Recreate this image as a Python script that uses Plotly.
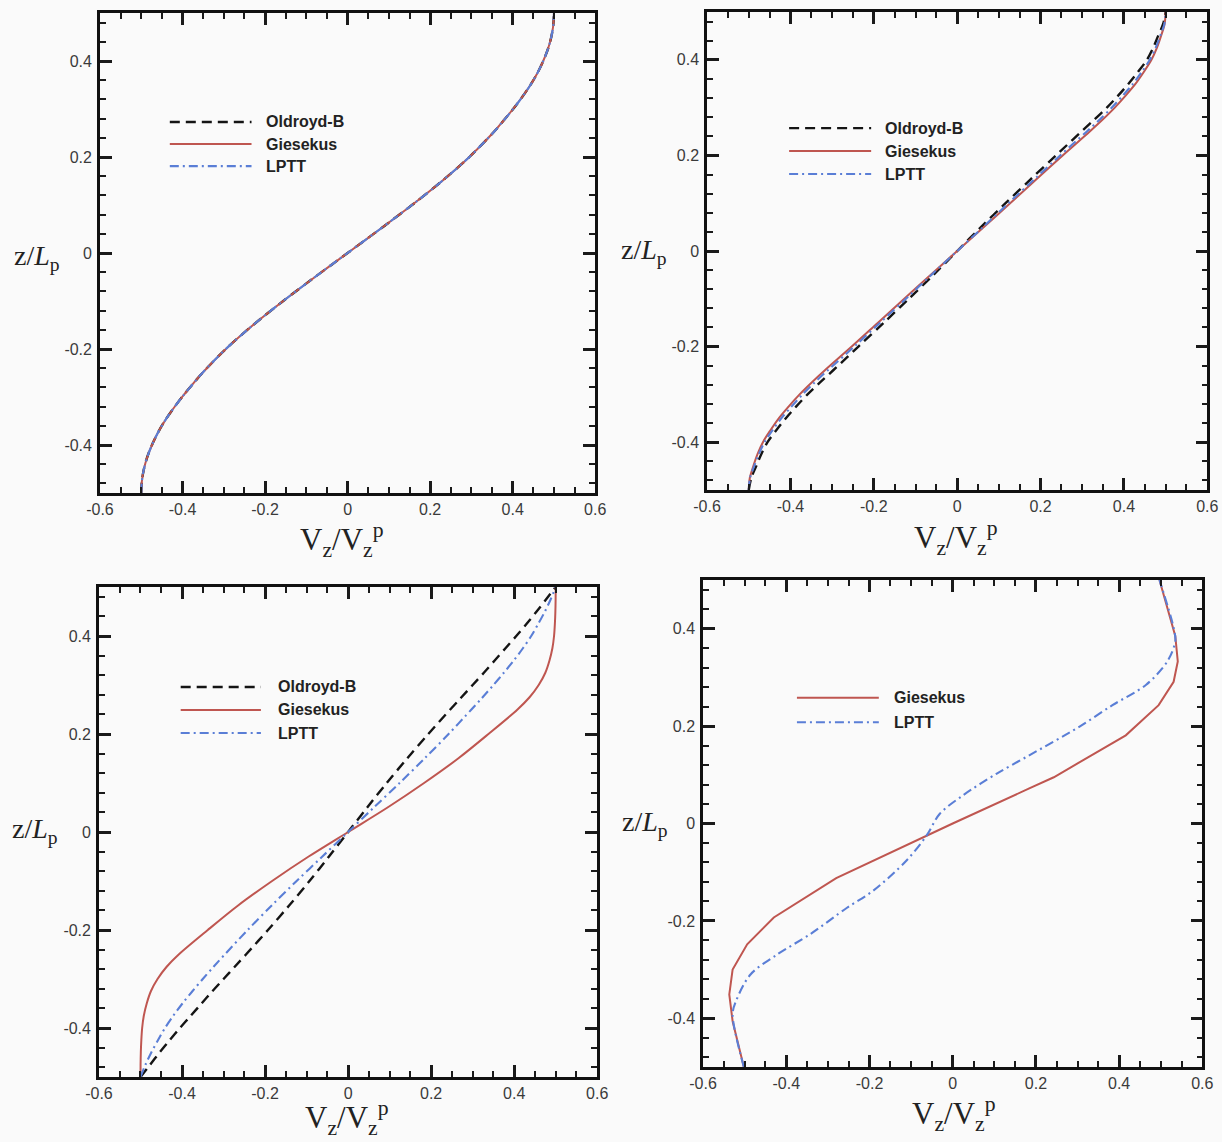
import plotly.graph_objects as go

# ---------------- data ----------------
x_tick_vals = [-0.6, -0.4, -0.2, 0, 0.2, 0.4, 0.6]
x_tick_text = ["-0.6", "-0.4", "-0.2", "0", "0.2", "0.4", "0.6"]
y_tick_vals = [-0.4, -0.2, 0, 0.2, 0.4]
y_tick_text = ["-0.4", "-0.2", "0", "0.2", "0.4"]

x_title = "V<sub>z</sub>/V<sub>z</sub><sup>p</sup>"
y_title = "z/<i>L</i><sub>p</sub>"

# common height grid used for panels (a)-(c)
z_grid = [-0.5, -0.475, -0.45, -0.425, -0.4, -0.375, -0.35, -0.325, -0.3, -0.275, -0.25,
          -0.2, -0.15, -0.1, -0.05, 0, 0.05, 0.1, 0.15, 0.2,
          0.25, 0.275, 0.3, 0.325, 0.35, 0.375, 0.4, 0.425, 0.45, 0.475, 0.5]

# Panel (a) top-left: all three models coincide
v_a_oldroyd = [-0.5, -0.4984, -0.4935, -0.4854, -0.474, -0.46, -0.443, -0.423, -0.401, -0.377, -0.352,
               -0.295, -0.229, -0.156, -0.079, 0, 0.079, 0.156, 0.229, 0.295,
               0.352, 0.377, 0.401, 0.423, 0.443, 0.46, 0.474, 0.4854, 0.4935, 0.4984, 0.5]
v_a_giesekus = [-0.5, -0.4984, -0.4935, -0.4854, -0.474, -0.46, -0.443, -0.423, -0.401, -0.377, -0.352,
                -0.295, -0.229, -0.156, -0.079, 0, 0.079, 0.156, 0.229, 0.295,
                0.352, 0.377, 0.401, 0.423, 0.443, 0.46, 0.474, 0.4854, 0.4935, 0.4984, 0.5]
v_a_lptt = [-0.5, -0.4984, -0.4935, -0.4854, -0.474, -0.46, -0.443, -0.423, -0.401, -0.377, -0.352,
            -0.295, -0.229, -0.156, -0.079, 0, 0.079, 0.156, 0.229, 0.295,
            0.352, 0.377, 0.401, 0.423, 0.443, 0.46, 0.474, 0.4854, 0.4935, 0.4984, 0.5]

# Panel (b) top-right
v_b_oldroyd = [-0.5, -0.494, -0.482, -0.47, -0.455, -0.434, -0.411, -0.386, -0.359, -0.329, -0.298,
               -0.237, -0.176, -0.116, -0.057, 0, 0.057, 0.116, 0.176, 0.237,
               0.298, 0.329, 0.359, 0.386, 0.411, 0.434, 0.455, 0.47, 0.482, 0.494, 0.5]
v_b_giesekus = [-0.5, -0.4975, -0.489, -0.479, -0.466, -0.448, -0.428, -0.404, -0.378, -0.349, -0.318,
                -0.253, -0.19, -0.127, -0.064, 0, 0.064, 0.127, 0.19, 0.253,
                0.318, 0.349, 0.378, 0.404, 0.428, 0.448, 0.466, 0.479, 0.489, 0.4975, 0.5]
v_b_lptt = [-0.5, -0.497, -0.487, -0.476, -0.462, -0.443, -0.422, -0.397, -0.371, -0.342, -0.311,
            -0.247, -0.185, -0.123, -0.062, 0, 0.062, 0.123, 0.185, 0.247,
            0.311, 0.342, 0.371, 0.397, 0.422, 0.443, 0.462, 0.476, 0.487, 0.497, 0.5]

# Panel (c) bottom-left
v_c_oldroyd = [-0.5, -0.477, -0.454, -0.43, -0.405, -0.379, -0.353, -0.327, -0.3, -0.273, -0.246,
               -0.193, -0.142, -0.093, -0.046, 0, 0.046, 0.093, 0.142, 0.193,
               0.246, 0.273, 0.3, 0.327, 0.353, 0.379, 0.405, 0.43, 0.454, 0.477, 0.5]
v_c_giesekus = [-0.5, -0.4998, -0.4992, -0.498, -0.496, -0.492, -0.485, -0.475, -0.459, -0.437, -0.408,
                -0.338, -0.265, -0.183, -0.095, 0, 0.095, 0.183, 0.265, 0.338,
                0.408, 0.437, 0.459, 0.475, 0.485, 0.492, 0.496, 0.498, 0.4992, 0.4998, 0.5]
v_c_lptt = [-0.5, -0.488, -0.474, -0.458, -0.441, -0.421, -0.399, -0.375, -0.35, -0.324, -0.297,
            -0.242, -0.184, -0.124, -0.062, 0, 0.062, 0.124, 0.184, 0.242,
            0.297, 0.324, 0.35, 0.375, 0.399, 0.421, 0.441, 0.458, 0.474, 0.488, 0.5]

# Panel (d) bottom-right: Giesekus and LPTT only
v_d_giesekus = [-0.502, -0.529, -0.537, -0.529, -0.494, -0.43, -0.28, -0.063, 0.0, 0.184, 0.243,
                0.416, 0.495, 0.531, 0.541, 0.535, 0.497]
z_d_giesekus = [-0.5, -0.406, -0.351, -0.3, -0.248, -0.193, -0.112, -0.025, 0.0, 0.072, 0.095,
                0.181, 0.243, 0.291, 0.333, 0.385, 0.5]
v_d_lptt = [-0.502, -0.529, -0.521, -0.486, -0.422, -0.342, -0.254, -0.191, -0.111, -0.063, -0.031,
            0.025, 0.105, 0.184, 0.305, 0.384, 0.465, 0.516, 0.535, 0.531, 0.497]
z_d_lptt = [-0.5, -0.392, -0.365, -0.31, -0.269, -0.227, -0.173, -0.138, -0.076, -0.025, 0.02,
            0.058, 0.102, 0.14, 0.199, 0.243, 0.285, 0.333, 0.374, 0.402, 0.5]

# ---------------- styles ----------------
BLACK = "#141414"
RED = "#bf5650"
BLUE = "#5a7ed6"
styles = {
    "Oldroyd-B": dict(color=BLACK, width=2.4, dash="10px,6px"),
    "Giesekus": dict(color=RED, width=2, dash="solid"),
    "LPTT": dict(color=BLUE, width=2.1, dash="9px,4px,2px,4px"),
}
tick_font = dict(family="Liberation Sans, Arial, sans-serif", size=16, color="#3a3a3a")
xtitle_font = dict(family="Liberation Serif, Times New Roman, serif", size=31, color="#222")
ytitle_font = dict(family="Liberation Serif, Times New Roman, serif", size=28, color="#222")
legend_font = dict(family="Liberation Sans, Arial, sans-serif", size=16, color="#222")

W, H = 1222, 1142
# horizontal compensation observed between layout pixels and the captured picture
SX, OX = 0.981, 11.9
# panel pixel boxes (as seen in the reference): left, right, top, bottom
boxes = [
    (98, 594, 13, 493),
    (706, 1207, 12, 490),
    (97, 596, 587, 1077),
    (702, 1202, 580, 1067),
]

def px_to_paper_x(px):
    return ((px - OX) / SX) / W

fig = go.Figure()

panel_series = [
    [("Oldroyd-B", v_a_oldroyd, z_grid), ("Giesekus", v_a_giesekus, z_grid), ("LPTT", v_a_lptt, z_grid)],
    [("Oldroyd-B", v_b_oldroyd, z_grid), ("Giesekus", v_b_giesekus, z_grid), ("LPTT", v_b_lptt, z_grid)],
    [("Oldroyd-B", v_c_oldroyd, z_grid), ("Giesekus", v_c_giesekus, z_grid), ("LPTT", v_c_lptt, z_grid)],
    [("Giesekus", v_d_giesekus, z_d_giesekus), ("LPTT", v_d_lptt, z_d_lptt)],
]
line_shapes = [["spline"] * 3, ["spline"] * 3, ["spline"] * 3, ["linear", "spline"]]

for i, series in enumerate(panel_series):
    sfx = "" if i == 0 else str(i + 1)
    for j, (name, v, z) in enumerate(series):
        st = styles[name]
        fig.add_trace(go.Scatter(
            x=v, y=z, mode="lines", name=name, showlegend=False,
            line=dict(color=st["color"], width=st["width"], dash=st["dash"],
                      shape=line_shapes[i][j], smoothing=0.9),
            xaxis="x" + sfx, yaxis="y" + sfx,
        ))

layout = dict(
    width=W, height=H, margin=dict(l=0, r=0, t=0, b=0),
    paper_bgcolor="#fafafa", plot_bgcolor="#fafafa",
    showlegend=False,
)

def xcfg(domain, anchor):
    return dict(domain=domain, anchor=anchor, range=[-0.6, 0.6],
                tickmode="array", tickvals=x_tick_vals, ticktext=x_tick_text,
                ticks="inside", ticklen=12, tickwidth=2.5, tickcolor="#1a1a1a",
                showline=True, linecolor="#111", linewidth=2.6, mirror="allticks",
                showgrid=False, zeroline=False, tickfont=tick_font, ticklabelstandoff=0,
                minor=dict(tickmode="linear", tick0=0, dtick=0.05, ticks="inside",
                           ticklen=6, tickwidth=1.5, tickcolor="#1a1a1a", showgrid=False))

def ycfg(domain, anchor):
    return dict(domain=domain, anchor=anchor, range=[-0.5, 0.5],
                tickmode="array", tickvals=y_tick_vals, ticktext=y_tick_text,
                ticks="inside", ticklen=12, tickwidth=2.5, tickcolor="#1a1a1a",
                showline=True, linecolor="#111", linewidth=2.6, mirror="allticks",
                showgrid=False, zeroline=False, tickfont=tick_font, ticklabelstandoff=2,
                minor=dict(tickmode="linear", tick0=0, dtick=0.04, ticks="inside",
                           ticklen=6, tickwidth=1.5, tickcolor="#1a1a1a", showgrid=False))

for i, (l, r, t, b) in enumerate(boxes):
    sfx = "" if i == 0 else str(i + 1)
    xd = [px_to_paper_x(l), px_to_paper_x(r)]
    yd = [1 - b / H, 1 - t / H]
    layout["xaxis" + sfx] = xcfg(xd, "y" + sfx)
    layout["yaxis" + sfx] = ycfg(yd, "x" + sfx)

fig.update_layout(**layout)

# axis titles (horizontal, as in the reference)
ytitle_pos = [(-0.127, 0.49), (-0.126, 0.498), (-0.128, 0.504), (-0.116, 0.501)]
xtitle_pos = [(0.488, -0.098), (0.498, -0.10), (0.497, -0.084), (0.502, -0.097)]
for i in range(4):
    sfx = "" if i == 0 else str(i + 1)
    fig.add_annotation(text=y_title, xref="x" + sfx + " domain", yref="y" + sfx + " domain",
                       x=ytitle_pos[i][0], y=ytitle_pos[i][1], showarrow=False,
                       xanchor="center", yanchor="middle", font=ytitle_font)
    fig.add_annotation(text=x_title, xref="x" + sfx + " domain", yref="y" + sfx + " domain",
                       x=xtitle_pos[i][0], y=xtitle_pos[i][1], showarrow=False,
                       xanchor="center", yanchor="middle", font=xtitle_font)

# in-plot legends (line sample + bold label)
legend_layout = [
    (0.141, 0.306, 0.331, [0.773, 0.727, 0.681], ["Oldroyd-B", "Giesekus", "LPTT"]),
    (0.164, 0.328, 0.352, [0.757, 0.709, 0.661], ["Oldroyd-B", "Giesekus", "LPTT"]),
    (0.164, 0.325, 0.355, [0.796, 0.749, 0.702], ["Oldroyd-B", "Giesekus", "LPTT"]),
    (0.188, 0.352, 0.378, [0.758, 0.708], ["Giesekus", "LPTT"]),
]
for i, (x0, x1, xt, ys, names) in enumerate(legend_layout):
    sfx = "" if i == 0 else str(i + 1)
    for name, yy in zip(names, ys):
        st = styles[name]
        fig.add_shape(type="line", xref="x" + sfx + " domain", yref="y" + sfx + " domain",
                      x0=x0, x1=x1, y0=yy, y1=yy,
                      line=dict(color=st["color"], width=st["width"], dash=st["dash"]))
        fig.add_annotation(text="<b>" + name + "</b>", xref="x" + sfx + " domain",
                           yref="y" + sfx + " domain", x=xt, y=yy, showarrow=False,
                           xanchor="left", yanchor="middle", font=legend_font)

fig.write_html("out.html")
